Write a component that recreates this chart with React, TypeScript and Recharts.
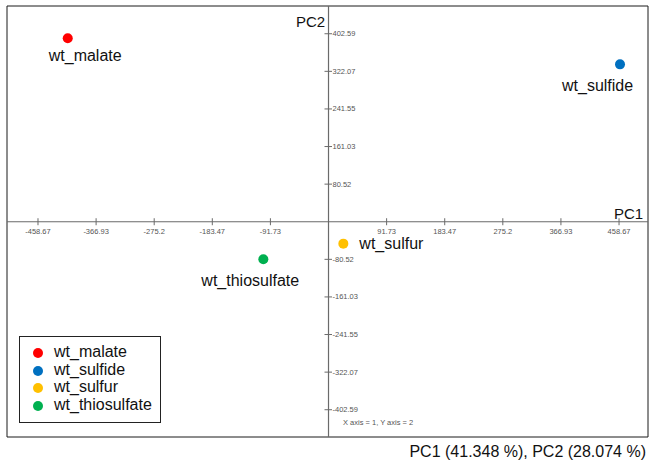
import React from 'react';
import { ScatterChart, Scatter, XAxis, YAxis, ReferenceLine, ReferenceDot, ReferenceArea } from 'recharts';

// ---- data ----
const seriesNames = ['wt_malate', 'wt_sulfide', 'wt_sulfur', 'wt_thiosulfate'];
const pc1Values = [-411.7, 460.2, 23.4, -102.9];
const pc2Values = [393.0, 337.0, -46.9, -80.3];
const xTicks = [-458.67, -366.93, -275.2, -183.47, -91.73, 91.73, 183.47, 275.2, 366.93, 458.67];
const yTicks = [402.59, 322.07, 241.55, 161.03, 80.52, -80.52, -161.03, -241.55, -322.07, -402.59];
const xAxisTitle = 'PC1';
const yAxisTitle = 'PC2';
const footnote = 'X axis = 1, Y axis = 2';
const varianceText = 'PC1 (41.348 %), PC2 (28.074 %)';

// ---- styles ----
const seriesColors = ['#ff0000', '#0070c0', '#ffc000', '#00b050'];
const labelOffsets: Record<string, [number, number]> = {
  wt_malate: [-19, 17],
  wt_sulfide: [-58, 21],
  wt_sulfur: [16, 0],
  wt_thiosulfate: [-62, 21],
};
const X_DOMAIN: [number, number] = [-507.6, 504.4];
const Y_DOMAIN: [number, number] = [-461, 462];
const FONT = '"Liberation Sans", Arial, sans-serif';
const AXIS_COLOR = '#6a6a6a';
const TICK_TEXT = '#555';

const makePointShape = (name: string, color: string) => (props: any) => {
  const { cx, cy } = props;
  const [dx, dy] = labelOffsets[name];
  return (
    <g>
      <circle cx={cx} cy={cy} r={5} fill={color} />
      <text x={cx + dx} y={cy + dy} dominantBaseline="central" textAnchor="start"
        fontFamily={FONT} fontSize={16} fill="#111">{name}</text>
    </g>
  );
};

const xTickShape = (v: number) => (props: any) => {
  const { cx, cy } = props;
  return (
    <g>
      <line x1={cx} x2={cx} y1={cy - 3.5} y2={cy + 3.5} stroke={AXIS_COLOR} strokeWidth={1} />
      <text x={cx} y={cy + 10} textAnchor="middle" dominantBaseline="central"
        fontFamily={FONT} fontSize={7.5} fill={TICK_TEXT}>{String(v)}</text>
    </g>
  );
};

const yTickShape = (v: number) => (props: any) => {
  const { cx, cy } = props;
  return (
    <g>
      <line x1={cx - 4} x2={cx + 3.5} y1={cy} y2={cy} stroke={AXIS_COLOR} strokeWidth={1} />
      <text x={cx + 4} y={cy} textAnchor="start" dominantBaseline="central"
        fontFamily={FONT} fontSize={7.5} fill={TICK_TEXT}>{String(v)}</text>
    </g>
  );
};

export default function App() {
  return (
    <div style={{ position: 'absolute', left: 0, top: 0, width: 649, height: 463, background: '#fff', overflow: 'hidden' }}>
      <ScatterChart width={649} height={463} margin={{ top: 6, right: 1, bottom: 26, left: 7 }}>
        <XAxis type="number" dataKey="x" domain={X_DOMAIN} hide allowDataOverflow />
        <YAxis type="number" dataKey="y" domain={Y_DOMAIN} hide allowDataOverflow />
        <ReferenceArea x1={X_DOMAIN[0]} x2={X_DOMAIN[1]} y1={Y_DOMAIN[0]} y2={Y_DOMAIN[1]}
          fill="none" fillOpacity={0} stroke="#1a1a1a" strokeWidth={1} ifOverflow="visible" />
        <ReferenceLine x={0} stroke={AXIS_COLOR} strokeWidth={1.2} />
        <ReferenceLine y={0} stroke={AXIS_COLOR} strokeWidth={1.2} />
        {xTicks.map((v) => (
          <ReferenceDot key={'xt' + v} x={v} y={0} r={0} ifOverflow="visible" shape={xTickShape(v)} />
        ))}
        {yTicks.map((v) => (
          <ReferenceDot key={'yt' + v} x={0} y={v} r={0} ifOverflow="visible" shape={yTickShape(v)} />
        ))}
        {seriesNames.map((name, i) => (
          <Scatter key={name} name={name} data={[{ x: pc1Values[i], y: pc2Values[i] }]}
            fill={seriesColors[i]} isAnimationActive={false}
            shape={makePointShape(name, seriesColors[i])} />
        ))}
      </ScatterChart>

      <div style={{ position: 'absolute', left: 296, top: 12, width: 26, fontFamily: FONT, fontSize: 15, color: '#111', lineHeight: '20px' }}>{yAxisTitle}</div>
      <div style={{ position: 'absolute', left: 614, top: 204, fontFamily: FONT, fontSize: 15, color: '#111', lineHeight: '20px' }}>{xAxisTitle}</div>
      <div style={{ position: 'absolute', left: 343, top: 417, fontFamily: FONT, fontSize: 7.5, color: TICK_TEXT, lineHeight: '12px', whiteSpace: 'nowrap' }}>{footnote}</div>
      <div style={{ position: 'absolute', right: 3, top: 441, fontFamily: FONT, fontSize: 16, color: '#111', lineHeight: '22px', whiteSpace: 'nowrap' }}>{varianceText}</div>

      <div style={{ position: 'absolute', left: 19, top: 336, width: 140, height: 85, border: '1px solid #222', background: '#fff' }}>
        {seriesNames.map((name, i) => (
          <div key={name} style={{ position: 'absolute', left: 0, top: 6 + i * 17.5, height: 18, width: 140 }}>
            <span style={{ position: 'absolute', left: 13, top: 5, width: 10, height: 10, borderRadius: 5, background: seriesColors[i] }} />
            <span style={{ position: 'absolute', left: 34, top: 0, fontFamily: FONT, fontSize: 16, lineHeight: '18px', color: '#111', whiteSpace: 'nowrap' }}>{name}</span>
          </div>
        ))}
      </div>
    </div>
  );
}
